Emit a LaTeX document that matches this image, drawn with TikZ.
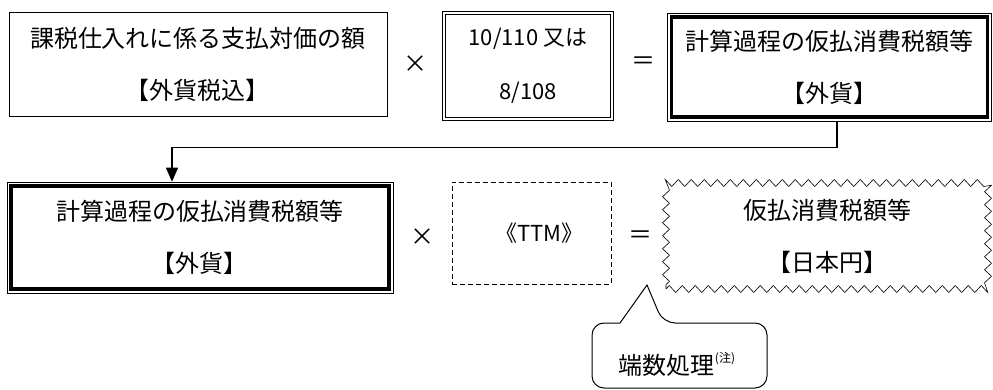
\documentclass[tikz,border=0pt]{standalone}
\usepackage{fontspec}
\setmainfont{Noto Sans CJK JP}
\usetikzlibrary{arrows.meta,decorations.pathmorphing}

\tikzset{
  kbox/.style={draw, line width=0.8pt, align=center, inner sep=0pt,
    font=\fontsize{24}{52}\selectfont},
  kdouble/.style={kbox, double, double distance=2pt, line width=0.6pt,
    font=\fontsize{22}{54}\selectfont},
  kdashed/.style={kbox, dashed, dash pattern=on 5pt off 3pt, line width=0.7pt,
    font=\fontsize{22}{52}\selectfont},
  kzigzag/.style={kbox, decorate, line width=0.6pt,
    decoration={zigzag, segment length=13pt, amplitude=3.5pt}},
  op/.style={inner sep=0pt, font=\fontsize{24}{24}\selectfont}
}

\begin{document}
\begin{tikzpicture}[x=1pt, y=-1pt]
	\useasboundingbox (0,0) rectangle (993,390);
	% upper row
	\node (k1) at (198,64) [kbox, minimum width=378, minimum height=104] {課税仕入れに係る支払対価の額\\【外貨税込】};
	\node (x1) at (415,64) [op] {×};
	\node (k2) at (528,66) [kdouble, minimum width=168, minimum height=106] {10/110 又は\\8/108};
	\node (e1) at (643,63) [op] {＝};
	\node (k3) at (829.5,67) [kbox, line width=0.6pt, minimum width=324, minimum height=108] {計算過程の仮払消費税額等\\【外貨】};
	\draw [line width=3.5pt] ([xshift=4.5,yshift=-4.5]k3.north west) rectangle ([xshift=-4.5,yshift=4.5]k3.south east);
	% lower row
	\node (k4) at (200,237.5) [kbox, line width=0.6pt, minimum width=386, minimum height=111] {計算過程の仮払消費税額等\\【外貨】};
	\draw [line width=3.5pt] ([xshift=4.5,yshift=-4.5]k4.north west) rectangle ([xshift=-4.5,yshift=4.5]k4.south east);
	\node (x2) at (422,237) [op] {×};
	\node (k5) at (531.5,233) [kdashed, minimum width=159, minimum height=102] {\hspace*{16pt}《TTM》};
	\node (e2) at (640,237) [op] {＝};
	\node (k6) at (827,236) [kzigzag, minimum width=322, minimum height=106] {仮払消費税額等\\【日本円】};
	% carry the result down
	\draw [line width=1.2pt, -{Triangle[length=14pt, width=12pt]}] ([xshift=7.5]k3.south) -- ++(0,26) -| ([xshift=-28]k4.north);
	% note bubble
	\node (k7) at (677,364) [font=\fontsize{24}{24}\selectfont, inner sep=0pt] {端数処理\raisebox{0.5em}{\fontsize{12}{12}\selectfont (注)}};
	\coordinate (tip) at (647,285);
	\draw [line width=1pt, rounded corners=12pt] (620,323) -- (592,323) -- (592,388) -- (767,388) -- (767,323) -- (663,323) [sharp corners] -- (tip) -- (620,323);
\end{tikzpicture}
\end{document}
